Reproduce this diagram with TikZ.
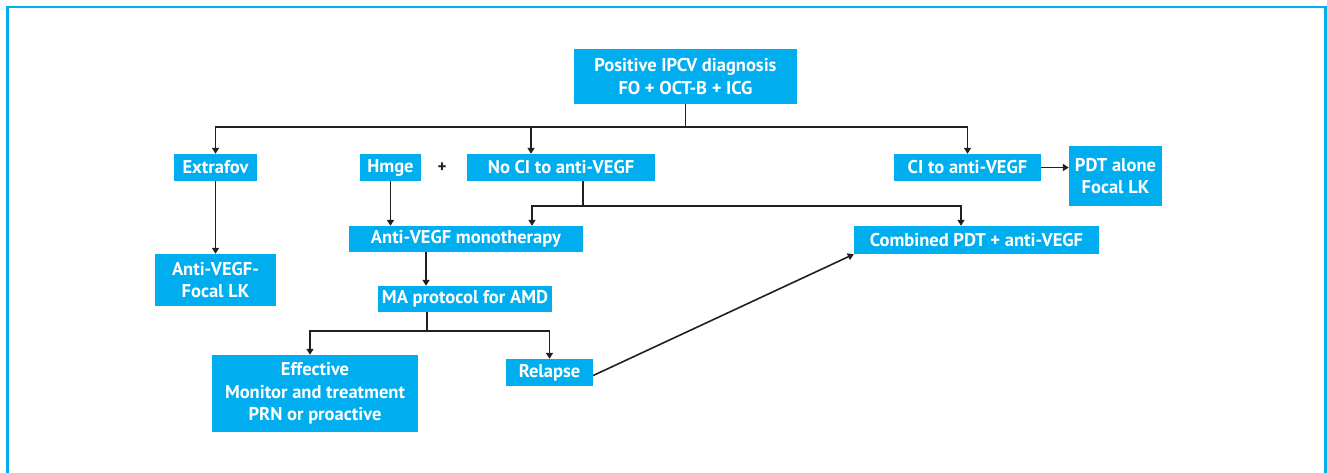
\documentclass[tikz,border=0pt]{standalone}
\usepackage{fontspec}
\setmainfont{PT Sans}
\usetikzlibrary{arrows.meta}
\definecolor{boxc}{HTML}{00AEEF}
\definecolor{linec}{HTML}{231F20}
\tikzset{
  box/.style={fill=boxc, text=white, font=\bfseries\fontsize{18.5}{22.5}\selectfont, align=center, inner sep=0pt, anchor=center},
  arr/.style={draw=linec, line width=1.6pt, -{Triangle[length=6pt,width=7pt]}},
  ln/.style={draw=linec, line width=1.6pt},
}
\begin{document}
\begin{tikzpicture}[x=1pt,y=-1pt]
\useasboundingbox (0,0) rectangle (1327,472);
\begin{scope}
\clip (0,0) rectangle (1327,472);
\draw[boxc, line width=2.5pt] (7.5,480) -- (7.5,7) -- (1325.5,7) -- (1325.5,480);
\end{scope}
\node[box, minimum width=223pt, minimum height=55pt] (top) at (685.5,76.5) {Positive IPCV diagnosis\\FO + OCT-B + ICG};
\node[box, minimum width=83pt, minimum height=27pt] (extrafov) at (215.5,167.5) {Extrafov};
\node[box, minimum width=61pt, minimum height=27pt] (hmge) at (390.5,167.5) {Hmge};
\node[font=\bfseries\fontsize{17}{18}\selectfont, text=linec] (plus) at (442,168) {+};
\node[box, minimum width=188pt, minimum height=27pt] (noci) at (561,167.5) {No CI to anti-VEGF};
\node[box, minimum width=147pt, minimum height=27pt] (ci) at (967.5,167.5) {CI to anti-VEGF};
\node[box, minimum width=93pt, minimum height=60pt] (pdt) at (1115.5,176) {PDT alone\\Focal LK};
\node[box, minimum width=121pt, minimum height=52pt] (avfl) at (215.5,280) {Anti-VEGF-\\Focal LK};
\node[box, minimum width=234pt, minimum height=26pt] (mono) at (466,239) {Anti-VEGF monotherapy};
\node[box, minimum width=245pt, minimum height=28pt] (comb) at (976.5,240) {Combined PDT + anti-VEGF};
\node[box, minimum width=174pt, minimum height=26pt] (ma) at (465,299) {MA protocol for AMD};
\node[box, minimum width=206pt, minimum height=77pt] (eff) at (315,393.5) {Effective\\Monitor and treatment\\PRN or proactive};
\node[box, minimum width=87pt, minimum height=27pt] (rel) at (549.5,372.5) {Relapse};
\coordinate (j1) at (685.5,127);
\coordinate (j2) at (583,206);
\coordinate (j3) at (427,331);
\draw[ln] (top.south) -- (j1);
\draw[arr] (j1) -| (extrafov.north);
\draw[arr] (j1) -| ([xshift=-30pt]noci.north);
\draw[arr] (j1) -| (ci.north);
\draw[arr] (ci.east) -- (ci.east -| pdt.west);
\draw[arr] (extrafov.south) -- (avfl.north);
\draw[arr] (hmge.south) -- (hmge.south |- mono.north);
\draw[ln] (noci.south -| j2) -- (j2);
\draw[arr] (j2) -| ([xshift=66pt]mono.north);
\draw[arr] (j2) -| ([xshift=-15.5pt]comb.north);
\draw[arr] (mono.south -| 426,0) -- (ma.north -| 426,0);
\draw[ln] (ma.south -| j3) -- (j3);
\draw[arr] (j3) -| ([xshift=-5pt]eff.north);
\draw[arr] (j3) -| (rel.north);
\draw[arr] ([yshift=-3pt]rel.east) -- (comb.south west);
\end{tikzpicture}
\end{document}
